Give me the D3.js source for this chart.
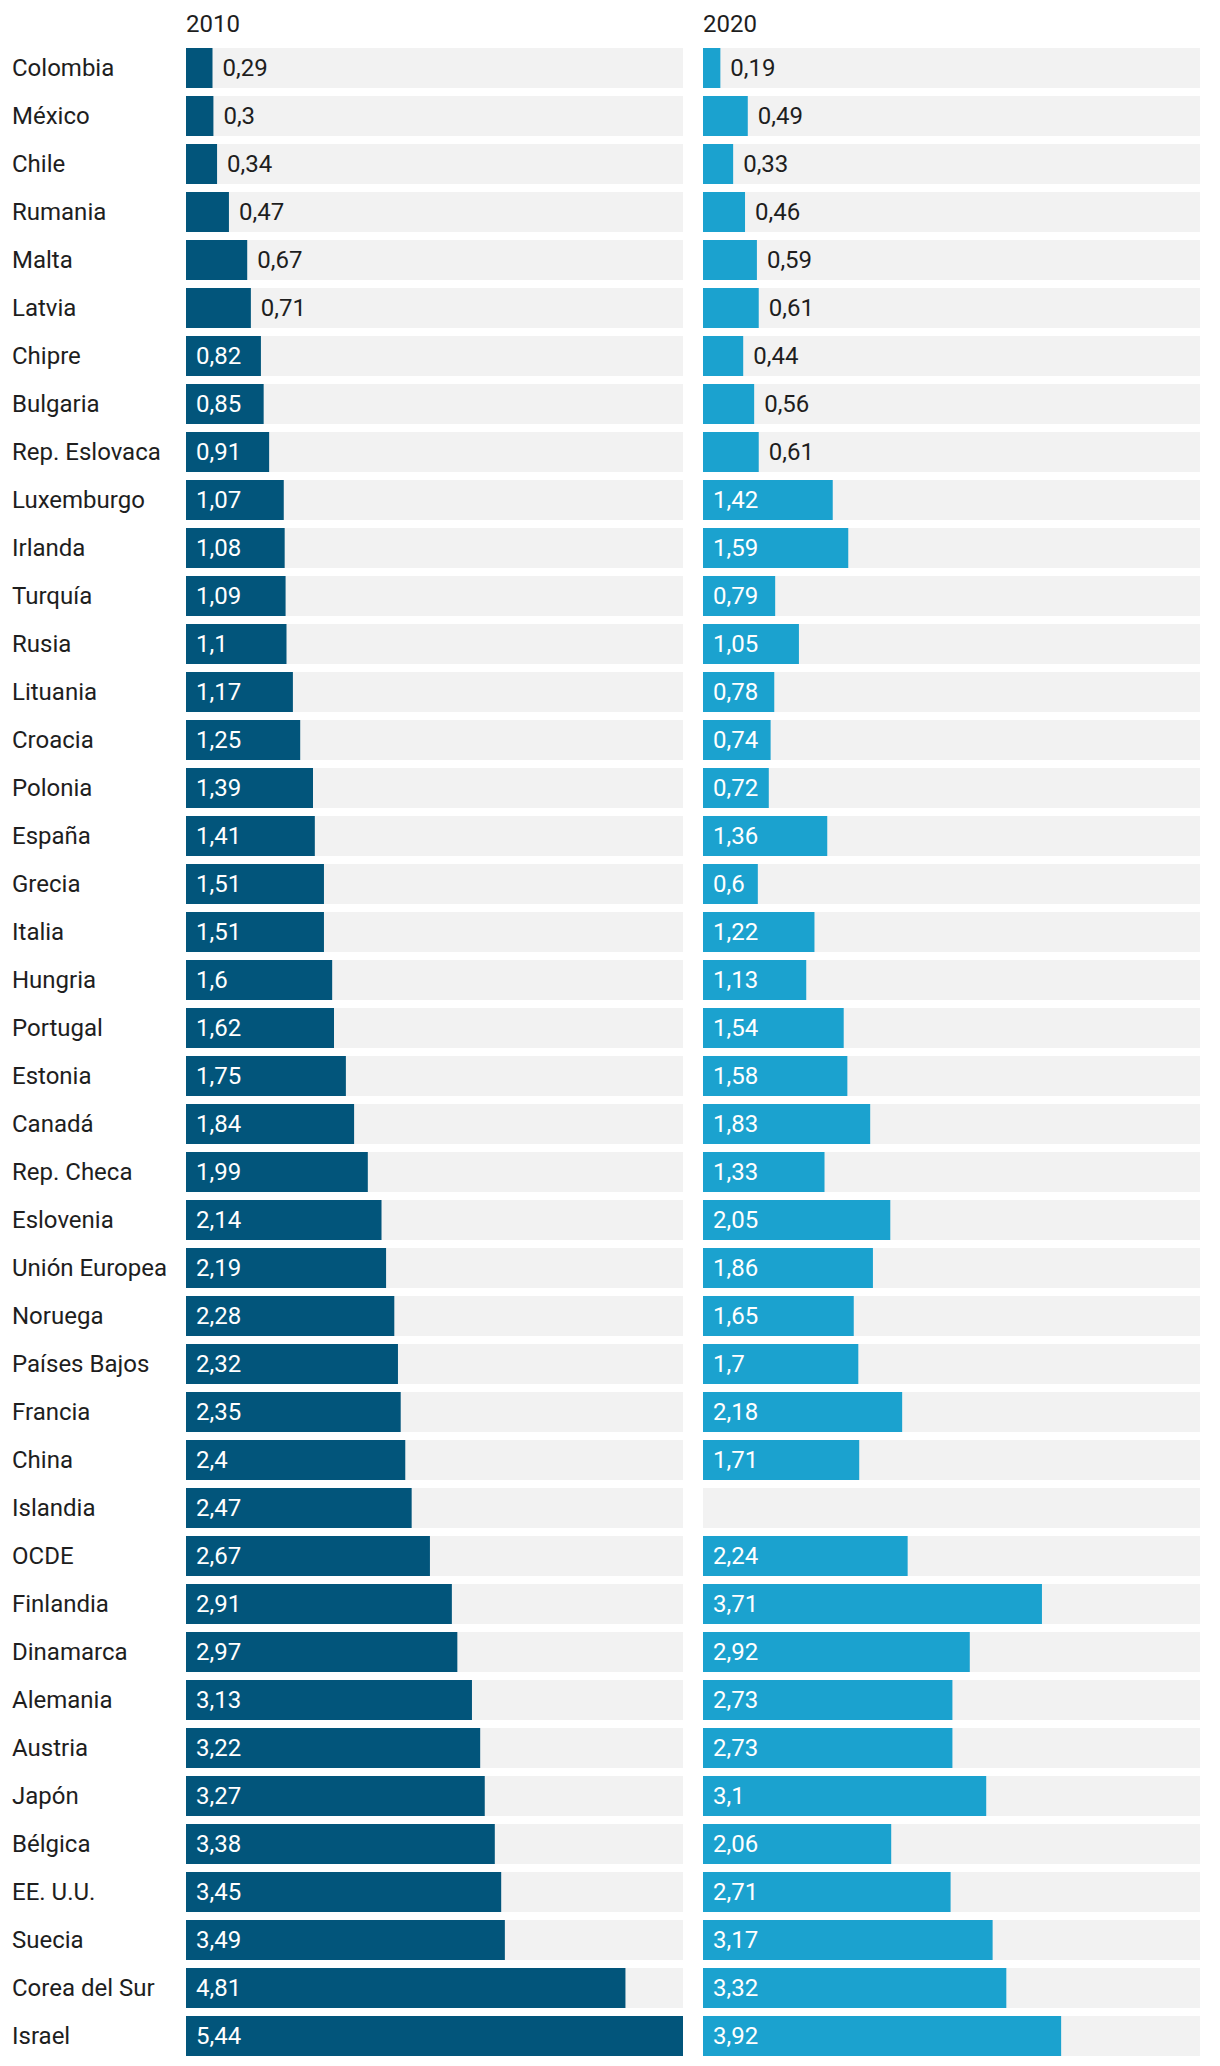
<!DOCTYPE html>
<html><head><meta charset="utf-8">
<script src="https://cdn.jsdelivr.net/npm/d3@7"></script>
<style>
html,body{margin:0;padding:0;background:#fff;}
svg text{font-family:Roboto,"Noto Sans",sans-serif;}
</style></head>
<body>
<svg id="chart" width="1220" height="2066"></svg>
<script>
const countries = ["Colombia","México","Chile","Rumania","Malta","Latvia","Chipre","Bulgaria","Rep. Eslovaca","Luxemburgo","Irlanda","Turquía","Rusia","Lituania","Croacia","Polonia","España","Grecia","Italia","Hungria","Portugal","Estonia","Canadá","Rep. Checa","Eslovenia","Unión Europea","Noruega","Países Bajos","Francia","China","Islandia","OCDE","Finlandia","Dinamarca","Alemania","Austria","Japón","Bélgica","EE. U.U.","Suecia","Corea del Sur","Israel"];
const values2010 = [0.29,0.3,0.34,0.47,0.67,0.71,0.82,0.85,0.91,1.07,1.08,1.09,1.1,1.17,1.25,1.39,1.41,1.51,1.51,1.6,1.62,1.75,1.84,1.99,2.14,2.19,2.28,2.32,2.35,2.4,2.47,2.67,2.91,2.97,3.13,3.22,3.27,3.38,3.45,3.49,4.81,5.44];
const values2020 = [0.19,0.49,0.33,0.46,0.59,0.61,0.44,0.56,0.61,1.42,1.59,0.79,1.05,0.78,0.74,0.72,1.36,0.6,1.22,1.13,1.54,1.58,1.83,1.33,2.05,1.86,1.65,1.7,2.18,1.71,null,2.24,3.71,2.92,2.73,2.73,3.1,2.06,2.71,3.17,3.32,3.92];
const seriesNames = ["2010","2020"];
const seriesColors = ["#02557b","#1ba2cf"];

const svg = d3.select("#chart");
const fontSize = 24;
const y = d3.scaleBand().domain(countries).range([48, 48 + 48*countries.length - 8]).paddingInner(8/48).paddingOuter(0);
const barH = y.bandwidth();
const panels = [{x0:186, x1:683},{x0:703, x1:1200}];
const fmt = v => String(v).replace(".", ",");

svg.selectAll("text.country").data(countries).join("text")
  .attr("class","country")
  .attr("x", 12)
  .attr("y", d => y(d) + barH/2)
  .attr("dy","0.35em")
  .attr("font-size", fontSize)
  .attr("fill","#1e1e1e")
  .text(d => d);

[values2010, values2020].forEach((vals, i) => {
  const p = panels[i];
  const x = d3.scaleLinear().domain([0, 5.44]).range([p.x0, p.x1]);
  const g = svg.append("g");
  const data = countries.map((c, j) => ({c, v: vals[j]}));
  g.append("text").attr("x", p.x0).attr("y", 32).attr("font-size", fontSize).attr("fill","#1e1e1e").text(seriesNames[i]);
  g.selectAll("rect.bg").data(data).join("rect").attr("class","bg")
    .attr("x", p.x0).attr("width", p.x1 - p.x0)
    .attr("y", d => y(d.c)).attr("height", barH).attr("fill","#f2f2f2");
  const dd = data.filter(d => d.v != null);
  g.selectAll("rect.bar").data(dd).join("rect").attr("class","bar")
    .attr("x", p.x0).attr("width", d => x(d.v) - p.x0)
    .attr("y", d => y(d.c)).attr("height", barH).attr("fill", seriesColors[i]);
  g.selectAll("text.val").data(dd).join("text").attr("class","val")
    .attr("y", d => y(d.c) + barH/2).attr("dy","0.35em")
    .attr("font-size", fontSize)
    .text(d => fmt(d.v))
    .each(function(d){
      const w = this.getComputedTextLength();
      const bw = x(d.v) - p.x0;
      const inside = bw > w + 20.4;
      d3.select(this).attr("x", inside ? p.x0 + 10 : x(d.v) + 10).attr("fill", inside ? "#fff" : "#1e1e1e");
    });
});
</script>
</body></html>
